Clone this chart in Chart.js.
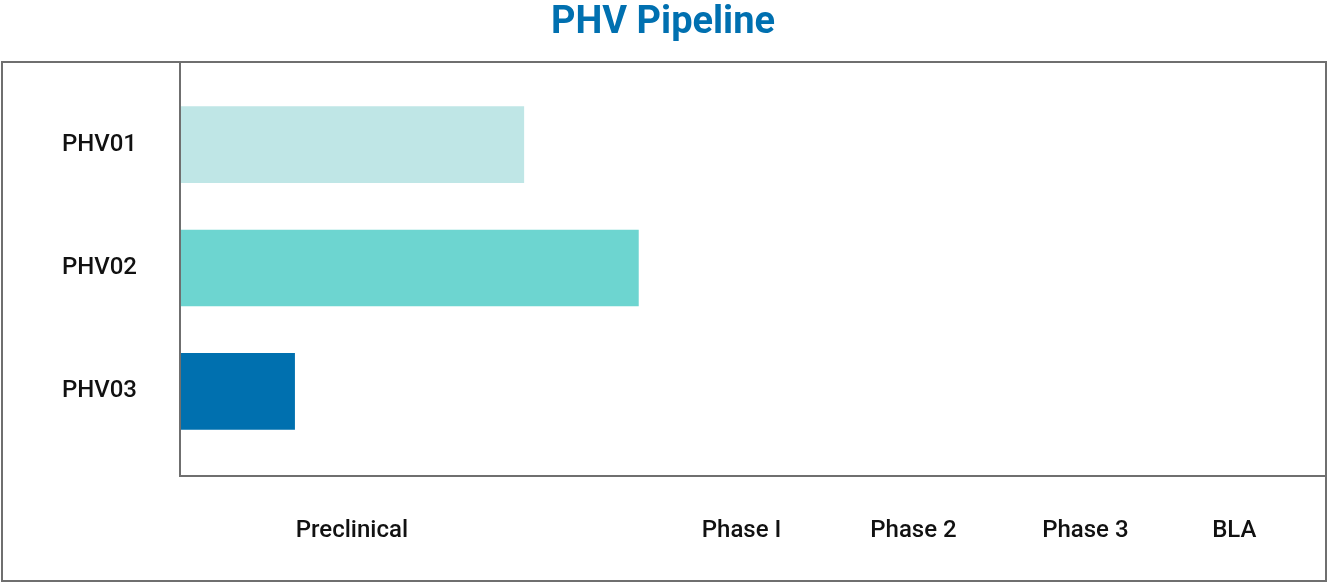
<!DOCTYPE html>
<html>
<head>
<meta charset="utf-8">
<title>PHV Pipeline</title>
<script src="https://cdn.jsdelivr.net/npm/chart.js@4.4.1/dist/chart.umd.min.js"></script>
<style>
  html, body { margin: 0; padding: 0; background: #fff; }
  #wrap { width: 1328px; height: 583px; }
</style>
</head>
<body>
<div id="wrap"><canvas id="pipelineChart" width="1328" height="583"></canvas></div>
<script>
// Programs and how far along the pipeline each one is (0-100 scale)
const programs = ["PHV01", "PHV02", "PHV03"];
const progress = [30, 40, 10];
const barColors = ["#BFE6E6", "#6DD5D0", "#0070AF"];

// Stage labels and where they sit on the progress scale
const stageLabels = ["Preclinical", "Phase I", "Phase 2", "Phase 3", "BLA"];
const stagePositions = [15, 49, 64, 79, 92];

const lineColor = "#6f6f6f";

// Draws the outer box and the axis lines
const framePlugin = {
    id: "frame",
    afterDraw(chart) {
        const { ctx, chartArea } = chart;
        ctx.save();
        ctx.strokeStyle = lineColor;
        ctx.lineWidth = 2;
        // outer box
        ctx.strokeRect(2, chartArea.top - 21, chartArea.right - 2, chart.height - 2 - (chartArea.top - 21));
        // axis lines
        const axisBottom = chartArea.bottom + 23;
        ctx.beginPath();
        ctx.moveTo(chartArea.left, chartArea.top - 20);
        ctx.lineTo(chartArea.left, axisBottom);
        ctx.lineTo(chartArea.right, axisBottom);
        ctx.stroke();
        ctx.restore();
    }
};

const ctx = document.getElementById("pipelineChart").getContext("2d");

new Chart(ctx, {
    type: "bar",
    data: {
        labels: programs,
        datasets: [
            {
                label: "Progress",
                data: progress,
                backgroundColor: barColors,
                borderWidth: 0,
                barThickness: 76
            }
        ]
    },
    options: {
        indexAxis: "y",
        responsive: false,
        animation: false,
        layout: {
            padding: { left: 0, right: 2, top: 0, bottom: 39 }
        },
        scales: {
            x: {
                min: 0,
                max: 100,
                grid: { display: false, drawTicks: false },
                border: { display: false },
                afterBuildTicks(scale) {
                    scale.ticks = stagePositions.map(v => ({ value: v }));
                },
                afterFit(scale) {
                    scale.height = 91;
                },
                ticks: {
                    autoSkip: false,
                    maxRotation: 0,
                    padding: 64,
                    color: "#111",
                    font: { family: "Roboto", size: 24, weight: "500" },
                    callback: (value, index) => stageLabels[index]
                }
            },
            y: {
                grid: { display: false, drawTicks: false },
                border: { display: false },
                afterFit(scale) {
                    scale.width = 180;
                },
                ticks: {
                    padding: 43,
                    color: "#111",
                    font: { family: "Roboto", size: 24, weight: "500" }
                }
            }
        },
        plugins: {
            legend: { display: false },
            tooltip: { enabled: false },
            title: {
                display: true,
                text: "PHV Pipeline",
                color: "#0070B0",
                font: { family: "Roboto", size: 38, weight: "bold", lineHeight: 1 },
                padding: { top: 4, bottom: 41 }
            }
        }
    },
    plugins: [framePlugin]
});
</script>
</body>
</html>
